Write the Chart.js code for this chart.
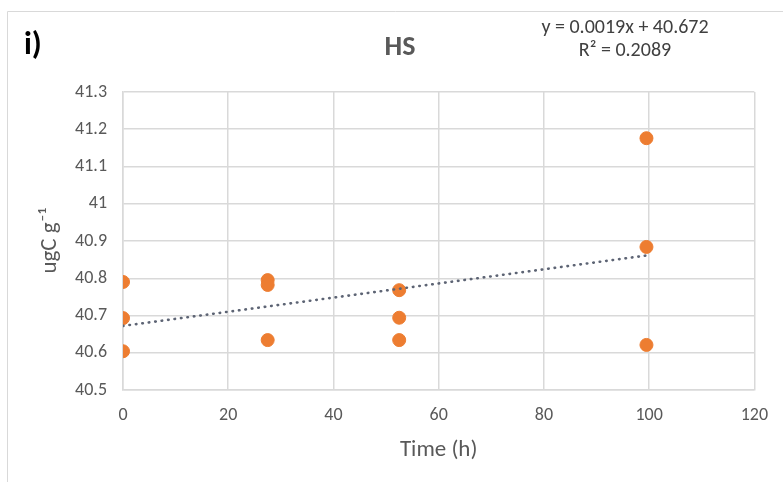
<!DOCTYPE html>
<html>
<head>
<meta charset="utf-8">
<script src="https://cdn.jsdelivr.net/npm/chart.js@4"></script>
<style>
  html, body { margin: 0; padding: 0; background: #fff; }
  #wrap { position: relative; width: 783px; height: 482px; }
</style>
</head>
<body>
<div id="wrap"><canvas id="chart" width="783" height="482"></canvas></div>
<script>
// data
const timeH = [0, 0, 0, 27.5, 27.5, 27.5, 52.5, 52.5, 52.5, 99.5, 99.5, 99.5];
const ugC = [40.79, 40.693, 40.604, 40.795, 40.782, 40.634, 40.768, 40.694, 40.634, 41.176, 40.884, 40.621];
const slope = 0.0019;
const intercept = 40.672;
const eqLines = ['y = 0.0019x + 40.672', 'R² = 0.2089'];
const xTicks = [0, 20, 40, 60, 80, 100, 120];
const yTicks = [40.5, 40.6, 40.7, 40.8, 40.9, 41, 41.1, 41.2, 41.3];

const FONT = "'Carlito', 'Liberation Sans Narrow', 'Liberation Sans', sans-serif";
const grey = '#595959';

const points = timeH.map((t, i) => ({ x: t, y: ugC[i] }));
const tMin = Math.min(...timeH), tMax = Math.max(...timeH);
const trend = [tMin, tMax].map(t => ({ x: t, y: slope * t + intercept }));

const decor = {
  id: 'decor',
  beforeDraw(chart) {
    const c = chart.ctx;
    c.save();
    c.strokeStyle = '#d9d9d9';
    c.lineWidth = 1;
    c.beginPath();
    c.moveTo(7.5, 482);
    c.lineTo(7.5, 11.5);
    c.lineTo(783, 11.5);
    c.stroke();
    c.restore();
  },
  afterDraw(chart) {
    const c = chart.ctx;
    c.save();
    c.textBaseline = 'middle';
    c.fillStyle = '#000';
    c.font = 'bold 32px ' + FONT;
    c.textAlign = 'left';
    c.fillText('i)', 24, 46);
    c.fillStyle = grey;
    c.font = 'bold 28px ' + FONT;
    c.textAlign = 'center';
    c.fillText('HS', 400, 48);
    c.fillStyle = '#404040';
    c.font = '20px ' + FONT;
    c.fillText(eqLines[0], 625, 28);
    c.fillText(eqLines[1], 625, 51);
    c.restore();
  }
};

new Chart(document.getElementById('chart').getContext('2d'), {
  type: 'scatter',
  data: {
    datasets: [{
      label: 'HS',
      data: points,
      backgroundColor: '#ed7d31',
      borderColor: '#ed7d31',
      pointRadius: 6.5,
      pointHoverRadius: 6.5,
      order: 2
    }, {
      label: 'Linear (HS)',
      type: 'line',
      data: trend,
      borderColor: '#5d6474',
      borderWidth: 2.6,
      borderDash: [0.5, 6],
      borderCapStyle: 'round',
      pointRadius: 0,
      fill: false,
      order: 1
    }]
  },
  options: {
    responsive: false,
    animation: false,
    layout: { padding: { top: 92, right: 28, left: 0, bottom: 0 } },
    plugins: { legend: { display: false }, tooltip: { enabled: false } },
    scales: {
      x: {
        type: 'linear',
        min: 0, max: 120,
        afterBuildTicks: s => { s.ticks = xTicks.map(v => ({ value: v })); },
        afterFit: s => { s.height = 92; },
        grid: { color: '#d9d9d9', lineWidth: 1.5, drawTicks: false },
        border: { color: '#d9d9d9', width: 1.5 },
        ticks: { color: grey, font: { family: FONT, size: 18 }, padding: 15 },
        title: { display: true, text: 'Time (h)', color: grey, font: { family: FONT, size: 23 }, padding: { bottom: 18 } }
      },
      y: {
        type: 'linear',
        min: 40.5, max: 41.3,
        afterBuildTicks: s => { s.ticks = yTicks.map(v => ({ value: v })); },
        afterFit: s => { s.width = 123; },
        grid: { color: '#d9d9d9', lineWidth: 1.5, drawTicks: false },
        border: { color: '#d9d9d9', width: 1.5 },
        ticks: { color: grey, font: { family: FONT, size: 18 }, padding: 16, callback: v => String(+v.toFixed(1)) },
        title: { display: true, text: 'ugC g⁻¹', color: grey, font: { family: FONT, size: 23 }, padding: { top: 36 } }
      }
    }
  },
  plugins: [decor]
});
</script>
</body>
</html>
